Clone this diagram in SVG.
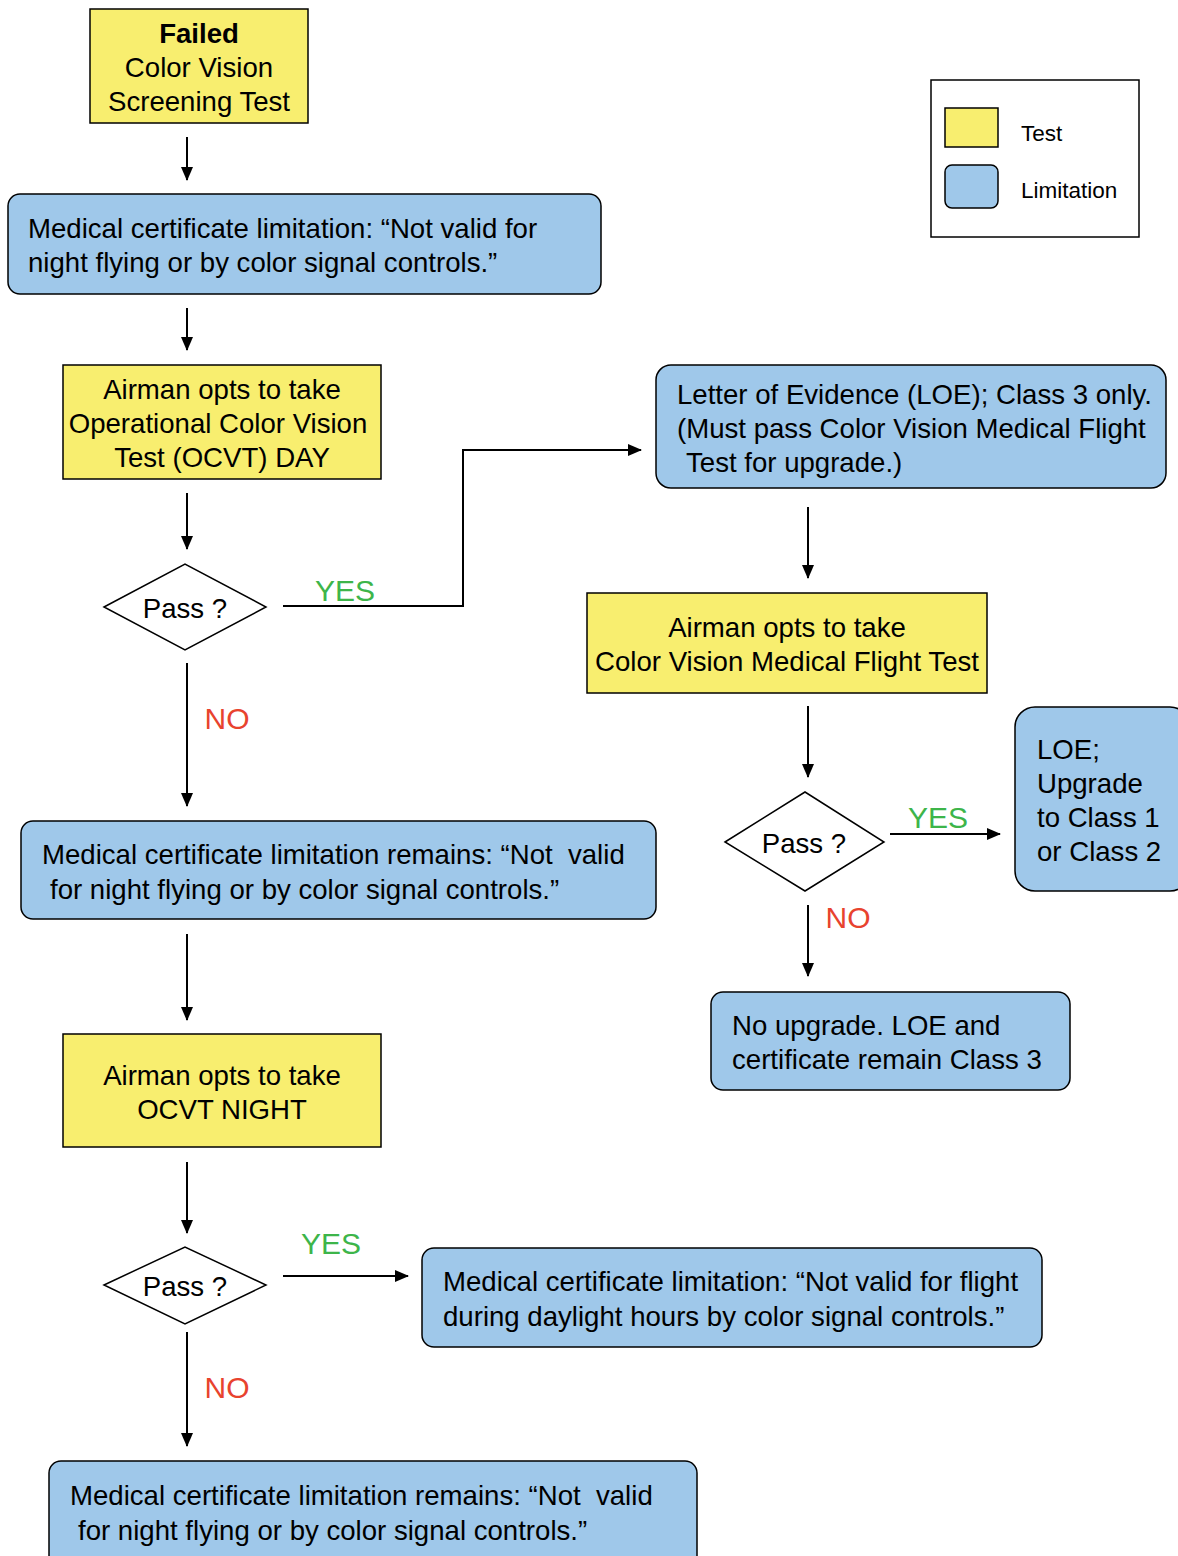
<svg xmlns="http://www.w3.org/2000/svg" width="1178" height="1556" viewBox="0 0 1178 1556">
<defs>
<style>
.t{fill:#F8EE6F;stroke:#000;stroke-width:1.5}
.l{fill:#9FC8EA;stroke:#000;stroke-width:1.5}
.d{fill:#fff;stroke:#000;stroke-width:1.5}
text{font-family:"Liberation Sans",Arial,sans-serif;font-size:27.6px;fill:#000}
.c{text-anchor:middle}
.y{fill:#3DB54A;font-size:30px}
.n{fill:#E8432E;font-size:30px}
.lg{font-size:22.5px}
.e{fill:none;stroke:#000;stroke-width:2}
</style>
<marker id="a" markerUnits="userSpaceOnUse" markerWidth="14" markerHeight="16" viewBox="0 0 14 16" refX="13" refY="8" orient="auto">
<path d="M0,2 L14,8 L0,14 Z" fill="#000"/>
</marker>
</defs>
<rect width="1178" height="1556" fill="#fff"/>
<g id="legend">
<rect x="931" y="80" width="208" height="157" fill="#fff" stroke="#000" stroke-width="1.5"/>
<rect class="t" x="945" y="108" width="53" height="39"/>
<rect class="l" x="945" y="165" width="53" height="43" rx="7"/>
<text class="lg" x="1021" y="141">Test</text>
<text class="lg" x="1021" y="198">Limitation</text>
</g>
<g id="connectors">
<path class="e" d="M187,137 V180" marker-end="url(#a)"/>
<path class="e" d="M187,308 V350" marker-end="url(#a)"/>
<path class="e" d="M187,493 V549" marker-end="url(#a)"/>
<path class="e" d="M283,606 H463 V450 H641" marker-end="url(#a)"/>
<path class="e" d="M187,663 V806" marker-end="url(#a)"/>
<path class="e" d="M808,507 V578" marker-end="url(#a)"/>
<path class="e" d="M808,706 V777" marker-end="url(#a)"/>
<path class="e" d="M890,834 H1000" marker-end="url(#a)"/>
<path class="e" d="M808,905 V976" marker-end="url(#a)"/>
<path class="e" d="M187,934 V1020" marker-end="url(#a)"/>
<path class="e" d="M187,1162 V1233" marker-end="url(#a)"/>
<path class="e" d="M283,1276 H408" marker-end="url(#a)"/>
<path class="e" d="M187,1332 V1446" marker-end="url(#a)"/>
<text class="c y" x="345" y="601">YES</text>
<text class="c n" x="227" y="729">NO</text>
<text class="c y" x="938" y="828">YES</text>
<text class="c n" x="848" y="928">NO</text>
<text class="c y" x="331" y="1254">YES</text>
<text class="c n" x="227" y="1398">NO</text>
</g>
<g id="failed">
<rect class="t" x="90" y="9" width="218" height="114"/>
<text class="c" x="199" y="43" font-weight="bold">Failed</text>
<text class="c" x="199" y="77">Color Vision</text>
<text class="c" x="199" y="111">Screening Test</text>
</g>
<g id="limit1">
<rect class="l" x="8" y="194" width="593" height="100" rx="12"/>
<text x="28" y="238">Medical certificate limitation: “Not valid for</text>
<text x="28" y="272">night flying or by color signal controls.”</text>
</g>
<g id="ocvtday">
<rect class="t" x="63" y="365" width="318" height="114"/>
<text class="c" x="222" y="399">Airman opts to take</text>
<text class="c" x="218" y="433">Operational Color Vision</text>
<text class="c" x="222" y="467">Test (OCVT) DAY</text>
</g>
<g id="pass1">
<polygon class="d" points="104,607 185,564 266,607 185,650"/>
<text class="c" x="185" y="618">Pass ?</text>
</g>
<g id="loe">
<rect class="l" x="656" y="365" width="510" height="123" rx="15"/>
<text x="677" y="404">Letter of Evidence (LOE); Class 3 only.</text>
<text x="677" y="438">(Must pass Color Vision Medical Flight</text>
<text x="686" y="472">Test for upgrade.)</text>
</g>
<g id="cvmft">
<rect class="t" x="587" y="593" width="400" height="100"/>
<text class="c" x="787" y="637">Airman opts to take</text>
<text class="c" x="787" y="671">Color Vision Medical Flight Test</text>
</g>
<g id="pass2">
<polygon class="d" points="725,842 805,792 884,842 805,891"/>
<text class="c" x="804" y="853">Pass ?</text>
</g>
<g id="upgrade">
<rect class="l" x="1015" y="707" width="175" height="184" rx="20"/>
<text x="1037" y="759">LOE;</text>
<text x="1037" y="793">Upgrade</text>
<text x="1037" y="827">to Class 1</text>
<text x="1037" y="861">or Class 2</text>
</g>
<g id="noupgrade">
<rect class="l" x="711" y="992" width="359" height="98" rx="12"/>
<text x="732" y="1035">No upgrade. LOE and</text>
<text x="732" y="1069">certificate remain Class 3</text>
</g>
<g id="remains1">
<rect class="l" x="21" y="821" width="635" height="98" rx="12"/>
<text x="42" y="864" xml:space="preserve">Medical certificate limitation remains: “Not  valid</text>
<text x="50" y="899">for night flying or by color signal controls.”</text>
</g>
<g id="ocvtnight">
<rect class="t" x="63" y="1034" width="318" height="113"/>
<text class="c" x="222" y="1085">Airman opts to take</text>
<text class="c" x="222" y="1119">OCVT NIGHT</text>
</g>
<g id="pass3">
<polygon class="d" points="104,1285 185,1247 266,1285 185,1324"/>
<text class="c" x="185" y="1296">Pass ?</text>
</g>
<g id="daylight">
<rect class="l" x="422" y="1248" width="620" height="99" rx="12"/>
<text x="443" y="1291">Medical certificate limitation: “Not valid for flight</text>
<text x="443" y="1326">during daylight hours by color signal controls.”</text>
</g>
<g id="remains2">
<rect class="l" x="49" y="1461" width="648" height="110" rx="12"/>
<text x="70" y="1505" xml:space="preserve">Medical certificate limitation remains: “Not  valid</text>
<text x="78" y="1540">for night flying or by color signal controls.”</text>
</g>
</svg>
